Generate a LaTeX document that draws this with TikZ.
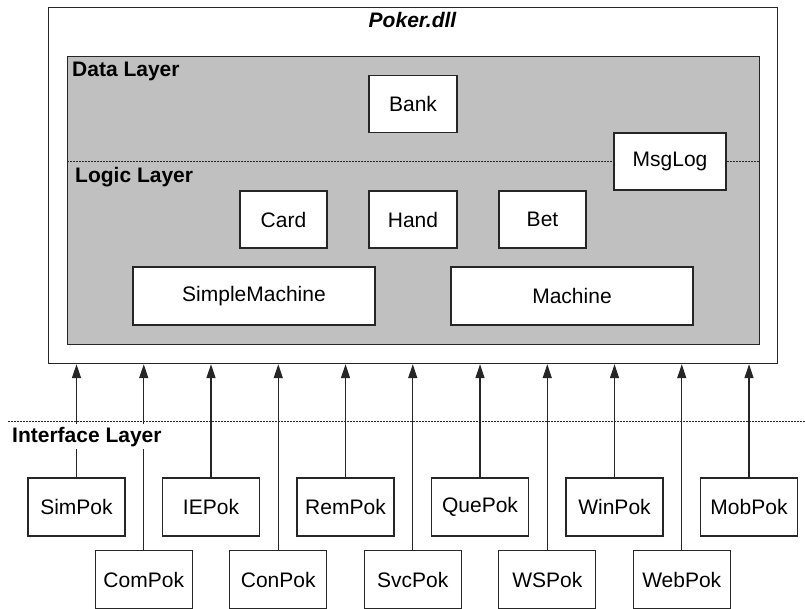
\documentclass[tikz,border=0pt]{standalone}
\usepackage{fontspec}
\setmainfont{Liberation Sans}
\usepackage{xcolor}
\usepackage{tikz}
\usetikzlibrary{arrows.meta}

\definecolor{layergray}{RGB}{192,192,192}

\tikzset{
  cls/.style={draw=black!85, fill=white, line width=1.2pt, inner sep=0pt,
    minimum height=57pt, font=\fontsize{21}{24}\selectfont},
  layer/.style={inner sep=0pt, font=\fontsize{21}{24}\selectfont\bfseries},
  sepline/.style={draw=black!85, line width=1pt, dash pattern=on 1.6pt off 1.4pt},
  arr/.style={-{Triangle[width=9pt,length=14pt]}, line width=1.2pt, draw=black!85},
}

\begin{document}
\begin{tikzpicture}[x=1pt, y=-1pt]

\useasboundingbox (0,0) rectangle (805,609);

% the dll
\node[draw=black!85, line width=1.2pt, minimum width=729pt, minimum height=356pt, anchor=north west] (dll) at (48,7) {};
\node[layer, font=\fontsize{21}{24}\selectfont\bfseries\itshape, anchor=base] (dlltitle) at (412.5,28) {Poker.dll};

\node[draw=black!85, fill=layergray, line width=1.2pt, minimum width=692pt, minimum height=288pt, anchor=north west] (core) at (67,56) {};

\draw[sepline] (67,162)--(759,162);

\node[layer, anchor=base west] (datalbl) at (72,77) {Data Layer};
\node[layer, anchor=base west] (logiclbl) at (75,183) {Logic Layer};

\node[cls, minimum width=88pt] (bank) at (413,104) {Bank};
\node[cls, minimum width=112pt] (msglog) at (670,161.5) {MsgLog};

\node[cls, minimum width=87pt] (card) at (283.5,219.5) {Card};
\node[cls, minimum width=88pt] (hand) at (413,219.5) {Hand};
\node[cls, minimum width=87pt] (bet) at (542.5,219.5) {Bet};

\node[cls, minimum width=242pt, minimum height=58pt] (simple) at (254,296) {SimpleMachine};
\node[cls, minimum width=242pt, minimum height=58pt] (machine) at (572,296) {Machine};

% interface layer
\foreach \i/\name in {0/SimPok,2/IEPok,4/RemPok,6/QuePok,8/WinPok,10/MobPok}{
	\node[cls, minimum width=97pt, minimum height=58pt] (pok\i) at (76.5+67.25*\i,507) {\name};
}
\foreach \i/\name in {1/ComPok,3/ConPok,5/SvcPok,7/WSPok,9/WebPok}{
	\node[cls, minimum width=97pt, minimum height=58pt] (pok\i) at (76.5+67.25*\i,579.5) {\name};
}

\foreach \i in {0,...,10}{
	\draw[arr] (pok\i.north)--(pok\i.north |- dll.south);
}

\draw[sepline] (8,421)--(805,421);

\node[layer, fill=white, inner sep=3pt, anchor=base west] (ifacelbl) at (9,442) {Interface Layer};

\end{tikzpicture}
\end{document}
